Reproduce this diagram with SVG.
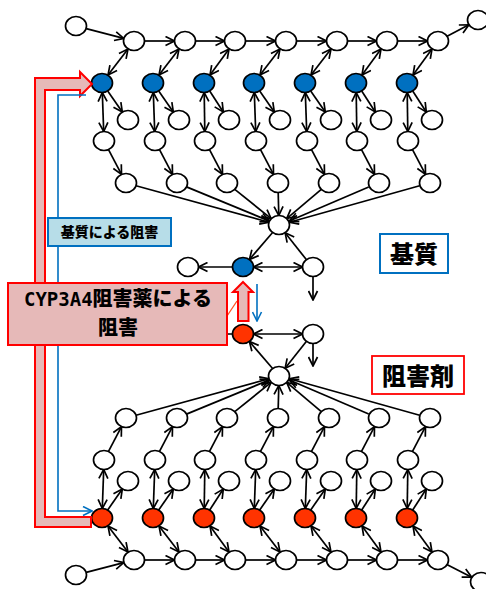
<svg xmlns="http://www.w3.org/2000/svg" width="486" height="589" viewBox="0 0 486 589">
  <defs>
    <marker id="ah" viewBox="0 0 11 11" refX="10" refY="5.5" markerWidth="11" markerHeight="11" markerUnits="userSpaceOnUse" orient="auto-start-reverse">
      <path d="M1,1 L10,5.5 L1,10" fill="none" stroke="#000" stroke-width="1.7" stroke-linejoin="miter"/>
    </marker>
    <marker id="ahb" viewBox="0 0 11 11" refX="10" refY="5.5" markerWidth="11" markerHeight="11" markerUnits="userSpaceOnUse" orient="auto">
      <path d="M1,1 L10,5.5 L1,10" fill="none" stroke="#0070C0" stroke-width="1.6"/>
    </marker>
  </defs>
  <style>
    .n { fill: #fff; stroke: #000; stroke-width: 1.7; }
    .blue { fill: #0070C0; }
    .red { fill: #FF3300; }
    .e { fill: none; stroke: #000; stroke-width: 1.7; marker-end: url(#ah); }
    .d { marker-start: url(#ah); }
    .plain { fill: none; stroke: #000; stroke-width: 1.7; }
    .pink { fill: #E6B9B8; stroke: #FF0000; stroke-width: 2; }
    .bl { fill: none; stroke: #0070C0; stroke-width: 1.6; }
    .jp { font-family: "Noto Sans CJK JP", "Noto Sans CJK SC", sans-serif; font-weight: 900; fill: #000; }
  </style>
  <rect width="486" height="589" fill="#fff"/>

  <!-- connectors -->
  <g id="connectors">
    <!-- upper network: top chain -->
    <line class="e" x1="86.2" y1="28.6" x2="123.8" y2="38.4"/>
    <line class="e" x1="144.5" y1="41" x2="174.5" y2="41"/>
    <line class="e" x1="195.5" y1="41" x2="224.5" y2="41"/>
    <line class="e" x1="245.5" y1="41" x2="275.5" y2="41"/>
    <line class="e" x1="296.5" y1="41" x2="326.5" y2="41"/>
    <line class="e" x1="347.5" y1="41" x2="376.5" y2="41"/>
    <line class="e" x1="397.5" y1="41" x2="427.5" y2="41"/>
    <line class="e" x1="447.1" y1="36.2" x2="468.9" y2="24.8"/>
    <!-- chain to substrate nodes (reversible) -->
    <line class="e d" x1="128" y1="49" x2="108" y2="75"/>
    <line class="e d" x1="179" y1="49" x2="159" y2="75"/>
    <line class="e d" x1="229" y1="49" x2="210" y2="75"/>
    <line class="e d" x1="280" y1="49" x2="260" y2="75"/>
    <line class="e d" x1="331" y1="49" x2="311" y2="75"/>
    <line class="e d" x1="381" y1="49" x2="362" y2="75"/>
    <line class="e d" x1="432" y1="49" x2="413" y2="75"/>
    <!-- substrate side branches -->
    <line class="e" x1="107.7" y1="91" x2="122.3" y2="112"/>
    <line class="e" x1="158.7" y1="91" x2="173.3" y2="112"/>
    <line class="e" x1="209.7" y1="91" x2="223.3" y2="112"/>
    <line class="e" x1="259.7" y1="91" x2="274.3" y2="112"/>
    <line class="e" x1="310.7" y1="91" x2="325.3" y2="112"/>
    <line class="e" x1="361.7" y1="91" x2="375.3" y2="112"/>
    <line class="e" x1="412.7" y1="91" x2="426.3" y2="112"/>
    <!-- substrate down (reversible) -->
    <line class="e d" x1="102.3" y1="92.5" x2="103.7" y2="131.5"/>
    <line class="e d" x1="153.3" y1="92.5" x2="154.7" y2="131.5"/>
    <line class="e d" x1="204.2" y1="92.5" x2="204.8" y2="131.5"/>
    <line class="e d" x1="254.3" y1="92.5" x2="255.7" y2="131.5"/>
    <line class="e d" x1="305.3" y1="92.5" x2="306.7" y2="131.5"/>
    <line class="e d" x1="356.2" y1="92.5" x2="356.8" y2="131.5"/>
    <line class="e d" x1="407.2" y1="92.5" x2="407.8" y2="131.5"/>
    <!-- down to convergence row -->
    <line class="e" x1="108.5" y1="149.6" x2="121.5" y2="174.4"/>
    <line class="e" x1="159.5" y1="149.6" x2="172.5" y2="174.4"/>
    <line class="e" x1="209.5" y1="149.6" x2="222.5" y2="174.4"/>
    <line class="e" x1="260.5" y1="149.6" x2="273.5" y2="174.4"/>
    <line class="e" x1="311.5" y1="149.6" x2="324.5" y2="174.4"/>
    <line class="e" x1="361.5" y1="149.6" x2="374.5" y2="174.4"/>
    <line class="e" x1="412.5" y1="149.6" x2="425.5" y2="174.4"/>
    <!-- into upper hub -->
    <line class="e" x1="136" y1="185.8" x2="269" y2="222.2"/>
    <line class="e" x1="186.5" y1="186.9" x2="269.5" y2="221.1"/>
    <line class="e" x1="234.8" y1="189.3" x2="271.2" y2="218.7"/>
    <line class="e" x1="278.2" y1="192.5" x2="278.8" y2="215.5"/>
    <line class="e" x1="321.3" y1="189.4" x2="286.7" y2="218.6"/>
    <line class="e" x1="368.7" y1="187" x2="289.3" y2="221"/>
    <line class="e" x1="419.6" y1="185.8" x2="289.4" y2="222.2"/>
    <!-- upper centre triangle -->
    <line class="e" x1="272.6" y1="232.5" x2="249.4" y2="259.5"/>
    <line class="e" x1="306.9" y1="260.3" x2="285.1" y2="232.7"/>
    <line class="e d" x1="253.5" y1="267" x2="302.5" y2="267"/>
    <line class="e" x1="232.5" y1="267" x2="198.5" y2="267"/>
    <line class="e" x1="313" y1="276.5" x2="313" y2="300"/>

    <!-- lower centre triangle -->
    <line class="e" x1="272.6" y1="368.5" x2="249.4" y2="341.5"/>
    <line class="e" x1="306.9" y1="340.7" x2="285.1" y2="368.3"/>
    <line class="e d" x1="253.5" y1="334" x2="302.5" y2="334"/>
    <line class="plain" x1="232.5" y1="334" x2="198.5" y2="334"/>
    <line class="e" x1="313" y1="343.5" x2="313" y2="366"/>
    <!-- into lower hub -->
    <line class="e" x1="136" y1="415.2" x2="269" y2="378.8"/>
    <line class="e" x1="186.5" y1="414.1" x2="269.5" y2="379.9"/>
    <line class="e" x1="234.8" y1="411.7" x2="271.2" y2="382.3"/>
    <line class="e" x1="278.2" y1="408.5" x2="278.8" y2="385.5"/>
    <line class="e" x1="321.3" y1="411.6" x2="286.7" y2="382.4"/>
    <line class="e" x1="368.7" y1="414" x2="289.3" y2="380"/>
    <line class="e" x1="419.6" y1="415.2" x2="289.4" y2="378.8"/>
    <!-- up to convergence row -->
    <line class="e" x1="108.5" y1="451.4" x2="121.5" y2="426.6"/>
    <line class="e" x1="159.5" y1="451.4" x2="172.5" y2="426.6"/>
    <line class="e" x1="209.5" y1="451.4" x2="222.5" y2="426.6"/>
    <line class="e" x1="260.5" y1="451.4" x2="273.5" y2="426.6"/>
    <line class="e" x1="311.5" y1="451.4" x2="324.5" y2="426.6"/>
    <line class="e" x1="361.5" y1="451.4" x2="374.5" y2="426.6"/>
    <line class="e" x1="412.5" y1="451.4" x2="425.5" y2="426.6"/>
    <!-- inhibitor up (reversible) -->
    <line class="e d" x1="102.3" y1="508.5" x2="103.7" y2="469.5"/>
    <line class="e d" x1="153.3" y1="508.5" x2="154.7" y2="469.5"/>
    <line class="e d" x1="204.2" y1="508.5" x2="204.8" y2="469.5"/>
    <line class="e d" x1="254.3" y1="508.5" x2="255.7" y2="469.5"/>
    <line class="e d" x1="305.3" y1="508.5" x2="306.7" y2="469.5"/>
    <line class="e d" x1="356.2" y1="508.5" x2="356.8" y2="469.5"/>
    <line class="e d" x1="407.2" y1="508.5" x2="407.8" y2="469.5"/>
    <!-- inhibitor side branches -->
    <line class="e" x1="107.7" y1="510" x2="122.3" y2="489"/>
    <line class="e" x1="158.7" y1="510" x2="173.3" y2="489"/>
    <line class="e" x1="209.7" y1="510" x2="223.3" y2="489"/>
    <line class="e" x1="259.7" y1="510" x2="274.3" y2="489"/>
    <line class="e" x1="310.7" y1="510" x2="325.3" y2="489"/>
    <line class="e" x1="361.7" y1="510" x2="375.3" y2="489"/>
    <line class="e" x1="412.7" y1="510" x2="426.3" y2="489"/>
    <!-- bottom chain to inhibitor nodes (reversible) -->
    <line class="e d" x1="128" y1="552" x2="108" y2="526"/>
    <line class="e d" x1="179" y1="552" x2="159" y2="526"/>
    <line class="e d" x1="229" y1="552" x2="210" y2="526"/>
    <line class="e d" x1="280" y1="552" x2="260" y2="526"/>
    <line class="e d" x1="331" y1="552" x2="311" y2="526"/>
    <line class="e d" x1="381" y1="552" x2="362" y2="526"/>
    <line class="e d" x1="432" y1="552" x2="413" y2="526"/>
    <!-- bottom chain -->
    <line class="e" x1="86.2" y1="572.4" x2="123.8" y2="562.6"/>
    <line class="e" x1="144.5" y1="560" x2="174.5" y2="560"/>
    <line class="e" x1="195.5" y1="560" x2="224.5" y2="560"/>
    <line class="e" x1="245.5" y1="560" x2="275.5" y2="560"/>
    <line class="e" x1="296.5" y1="560" x2="326.5" y2="560"/>
    <line class="e" x1="347.5" y1="560" x2="376.5" y2="560"/>
    <line class="e" x1="397.5" y1="560" x2="427.5" y2="560"/>
    <line class="e" x1="447.3" y1="564.8" x2="471.7" y2="577.2"/>
  </g>

  <!-- upper network nodes -->
  <g id="node-tl"><ellipse class="n" cx="76" cy="26" rx="10.5" ry="9.5"/></g>
  <g id="node-tr"><ellipse class="n" cx="478" cy="20" rx="10.5" ry="9.5"/></g>
  <g id="node-a1"><ellipse class="n" cx="134" cy="41" rx="10.5" ry="9.5"/></g>
  <g id="node-a2"><ellipse class="n" cx="185" cy="41" rx="10.5" ry="9.5"/></g>
  <g id="node-a3"><ellipse class="n" cx="235" cy="41" rx="10.5" ry="9.5"/></g>
  <g id="node-a4"><ellipse class="n" cx="286" cy="41" rx="10.5" ry="9.5"/></g>
  <g id="node-a5"><ellipse class="n" cx="337" cy="41" rx="10.5" ry="9.5"/></g>
  <g id="node-a6"><ellipse class="n" cx="387" cy="41" rx="10.5" ry="9.5"/></g>
  <g id="node-a7"><ellipse class="n" cx="438" cy="41" rx="10.5" ry="9.5"/></g>
  <g id="node-s1"><ellipse class="n blue" cx="102" cy="83" rx="10.5" ry="9.5"/></g>
  <g id="node-s2"><ellipse class="n blue" cx="153" cy="83" rx="10.5" ry="9.5"/></g>
  <g id="node-s3"><ellipse class="n blue" cx="204" cy="83" rx="10.5" ry="9.5"/></g>
  <g id="node-s4"><ellipse class="n blue" cx="254" cy="83" rx="10.5" ry="9.5"/></g>
  <g id="node-s5"><ellipse class="n blue" cx="305" cy="83" rx="10.5" ry="9.5"/></g>
  <g id="node-s6"><ellipse class="n blue" cx="356" cy="83" rx="10.5" ry="9.5"/></g>
  <g id="node-s7"><ellipse class="n blue" cx="407" cy="83" rx="10.5" ry="9.5"/></g>
  <g id="node-c1"><ellipse class="n" cx="128" cy="120" rx="10.5" ry="9.5"/></g>
  <g id="node-c2"><ellipse class="n" cx="179" cy="120" rx="10.5" ry="9.5"/></g>
  <g id="node-c3"><ellipse class="n" cx="229" cy="120" rx="10.5" ry="9.5"/></g>
  <g id="node-c4"><ellipse class="n" cx="280" cy="120" rx="10.5" ry="9.5"/></g>
  <g id="node-c5"><ellipse class="n" cx="331" cy="120" rx="10.5" ry="9.5"/></g>
  <g id="node-c6"><ellipse class="n" cx="381" cy="120" rx="10.5" ry="9.5"/></g>
  <g id="node-c7"><ellipse class="n" cx="432" cy="120" rx="10.5" ry="9.5"/></g>
  <g id="node-d1"><ellipse class="n" cx="104" cy="141" rx="10.5" ry="9.5"/></g>
  <g id="node-d2"><ellipse class="n" cx="155" cy="141" rx="10.5" ry="9.5"/></g>
  <g id="node-d3"><ellipse class="n" cx="205" cy="141" rx="10.5" ry="9.5"/></g>
  <g id="node-d4"><ellipse class="n" cx="256" cy="141" rx="10.5" ry="9.5"/></g>
  <g id="node-d5"><ellipse class="n" cx="307" cy="141" rx="10.5" ry="9.5"/></g>
  <g id="node-d6"><ellipse class="n" cx="357" cy="141" rx="10.5" ry="9.5"/></g>
  <g id="node-d7"><ellipse class="n" cx="408" cy="141" rx="10.5" ry="9.5"/></g>
  <g id="node-e1"><ellipse class="n" cx="126" cy="183" rx="10.5" ry="9.5"/></g>
  <g id="node-e2"><ellipse class="n" cx="177" cy="183" rx="10.5" ry="9.5"/></g>
  <g id="node-e3"><ellipse class="n" cx="227" cy="183" rx="10.5" ry="9.5"/></g>
  <g id="node-e4"><ellipse class="n" cx="278" cy="183" rx="10.5" ry="9.5"/></g>
  <g id="node-e5"><ellipse class="n" cx="329" cy="183" rx="10.5" ry="9.5"/></g>
  <g id="node-e6"><ellipse class="n" cx="379" cy="183" rx="10.5" ry="9.5"/></g>
  <g id="node-e7"><ellipse class="n" cx="430" cy="183" rx="10.5" ry="9.5"/></g>
  <g id="node-hub-top"><ellipse class="n" cx="279" cy="225" rx="10.5" ry="9.5"/></g>

  <!-- centre nodes -->
  <g id="node-sub"><ellipse class="n blue" cx="243" cy="267" rx="10.5" ry="9.5"/></g>
  <g id="node-sub-left"><ellipse class="n" cx="188" cy="267" rx="10.5" ry="9.5"/></g>
  <g id="node-sub-right"><ellipse class="n" cx="313" cy="267" rx="10.5" ry="9.5"/></g>
  <g id="node-inh"><ellipse class="n red" cx="243" cy="334" rx="10.5" ry="9.5"/></g>
  <g id="node-inh-right"><ellipse class="n" cx="313" cy="334" rx="10.5" ry="9.5"/></g>

  <!-- lower network nodes -->
  <g id="node-hub-bottom"><ellipse class="n" cx="279" cy="376" rx="10.5" ry="9.5"/></g>
  <g id="node-f1"><ellipse class="n" cx="126" cy="418" rx="10.5" ry="9.5"/></g>
  <g id="node-f2"><ellipse class="n" cx="177" cy="418" rx="10.5" ry="9.5"/></g>
  <g id="node-f3"><ellipse class="n" cx="227" cy="418" rx="10.5" ry="9.5"/></g>
  <g id="node-f4"><ellipse class="n" cx="278" cy="418" rx="10.5" ry="9.5"/></g>
  <g id="node-f5"><ellipse class="n" cx="329" cy="418" rx="10.5" ry="9.5"/></g>
  <g id="node-f6"><ellipse class="n" cx="379" cy="418" rx="10.5" ry="9.5"/></g>
  <g id="node-f7"><ellipse class="n" cx="430" cy="418" rx="10.5" ry="9.5"/></g>
  <g id="node-g1"><ellipse class="n" cx="104" cy="460" rx="10.5" ry="9.5"/></g>
  <g id="node-g2"><ellipse class="n" cx="155" cy="460" rx="10.5" ry="9.5"/></g>
  <g id="node-g3"><ellipse class="n" cx="205" cy="460" rx="10.5" ry="9.5"/></g>
  <g id="node-g4"><ellipse class="n" cx="256" cy="460" rx="10.5" ry="9.5"/></g>
  <g id="node-g5"><ellipse class="n" cx="307" cy="460" rx="10.5" ry="9.5"/></g>
  <g id="node-g6"><ellipse class="n" cx="357" cy="460" rx="10.5" ry="9.5"/></g>
  <g id="node-g7"><ellipse class="n" cx="408" cy="460" rx="10.5" ry="9.5"/></g>
  <g id="node-h1"><ellipse class="n" cx="128" cy="481" rx="10.5" ry="9.5"/></g>
  <g id="node-h2"><ellipse class="n" cx="179" cy="481" rx="10.5" ry="9.5"/></g>
  <g id="node-h3"><ellipse class="n" cx="229" cy="481" rx="10.5" ry="9.5"/></g>
  <g id="node-h4"><ellipse class="n" cx="280" cy="481" rx="10.5" ry="9.5"/></g>
  <g id="node-h5"><ellipse class="n" cx="331" cy="481" rx="10.5" ry="9.5"/></g>
  <g id="node-h6"><ellipse class="n" cx="381" cy="481" rx="10.5" ry="9.5"/></g>
  <g id="node-h7"><ellipse class="n" cx="432" cy="481" rx="10.5" ry="9.5"/></g>
  <g id="node-i1"><ellipse class="n red" cx="102" cy="518" rx="10.5" ry="9.5"/></g>
  <g id="node-i2"><ellipse class="n red" cx="153" cy="518" rx="10.5" ry="9.5"/></g>
  <g id="node-i3"><ellipse class="n red" cx="204" cy="518" rx="10.5" ry="9.5"/></g>
  <g id="node-i4"><ellipse class="n red" cx="254" cy="518" rx="10.5" ry="9.5"/></g>
  <g id="node-i5"><ellipse class="n red" cx="305" cy="518" rx="10.5" ry="9.5"/></g>
  <g id="node-i6"><ellipse class="n red" cx="356" cy="518" rx="10.5" ry="9.5"/></g>
  <g id="node-i7"><ellipse class="n red" cx="407" cy="518" rx="10.5" ry="9.5"/></g>
  <g id="node-k1"><ellipse class="n" cx="134" cy="560" rx="10.5" ry="9.5"/></g>
  <g id="node-k2"><ellipse class="n" cx="185" cy="560" rx="10.5" ry="9.5"/></g>
  <g id="node-k3"><ellipse class="n" cx="235" cy="560" rx="10.5" ry="9.5"/></g>
  <g id="node-k4"><ellipse class="n" cx="286" cy="560" rx="10.5" ry="9.5"/></g>
  <g id="node-k5"><ellipse class="n" cx="337" cy="560" rx="10.5" ry="9.5"/></g>
  <g id="node-k6"><ellipse class="n" cx="387" cy="560" rx="10.5" ry="9.5"/></g>
  <g id="node-k7"><ellipse class="n" cx="438" cy="560" rx="10.5" ry="9.5"/></g>
  <g id="node-bl"><ellipse class="n" cx="76" cy="575" rx="10.5" ry="9.5"/></g>
  <g id="node-br"><ellipse class="n" cx="481" cy="582" rx="10.5" ry="9.5"/></g>

  <!-- inhibition by the inhibitor: hollow L-shaped arrow -->
  <g id="inhibitor-arrow">
    <polygon class="pink" points="91,527 35,527 35,78 80,78 80,72 92,84 80,96 80,90 45,90 45,517 91,517"/>
  </g>
  <!-- inhibition by the substrate: thin bracket -->
  <g id="substrate-line">
    <path class="bl" d="M86,95 H58 V511 H92" marker-end="url(#ahb)"/>
  </g>

  <!-- centre interaction arrows -->
  <g id="centre-arrows">
    <line x1="227" y1="316" x2="237" y2="301" stroke="#FF5020" stroke-width="1.3"/>
    <polygon class="pink" points="243,282 253,292 248.5,292 248.5,321 238,321 238,292 233,292"/>
    <line class="bl" x1="257" y1="284" x2="257" y2="321" marker-end="url(#ahb)"/>
  </g>

  <!-- labels -->
  <g id="label-substrate-inhibition">
    <rect x="48" y="218" width="123" height="28" fill="#B7DDE8" stroke="#0070C0" stroke-width="2"/>
    <text class="jp" x="109.5" y="236.5" font-size="14" text-anchor="middle">基質による阻害</text>
  </g>
  <g id="label-cyp3a4">
    <rect x="8" y="283" width="219" height="62" fill="#E6B9B8" stroke="#FF0000" stroke-width="2"/>
    <text class="jp" x="118" y="306" font-size="20" text-anchor="middle"><tspan font-family="DejaVu Sans Mono, monospace" font-weight="bold" font-size="19">CYP3A4</tspan>阻害薬による</text>
    <text class="jp" x="118" y="335" font-size="20" text-anchor="middle">阻害</text>
  </g>
  <g id="label-substrate">
    <rect x="380" y="234" width="68" height="39" fill="#fff" stroke="#0070C0" stroke-width="2"/>
    <text class="jp" x="414" y="263" font-size="24" text-anchor="middle">基質</text>
  </g>
  <g id="label-inhibitor">
    <rect x="372" y="356" width="92" height="38" fill="#fff" stroke="#FF0000" stroke-width="1.8"/>
    <text class="jp" x="418" y="385" font-size="24" text-anchor="middle">阻害剤</text>
  </g>
</svg>
